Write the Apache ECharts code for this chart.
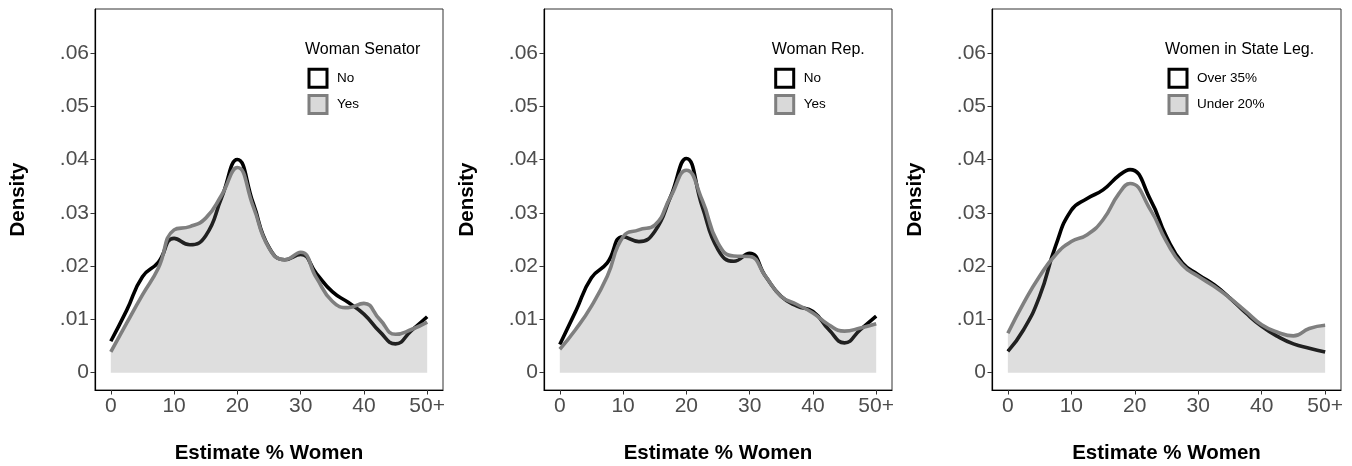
<!DOCTYPE html>
<html>
<head>
<meta charset="utf-8">
<script src="https://cdn.jsdelivr.net/npm/echarts@6/dist/echarts.min.js"></script>
<style>
html,body{margin:0;padding:0;background:#fff;}
#chart{width:1352px;height:466px;}
</style>
</head>
<body>
<div id="chart"></div>
<script>
// ---- data ----
const xs   = [0,2.5,5,7.5,10,12.5,15,17.5,20,22.5,25,27.5,30,32.5,35,37.5,40,42.5,45,47.5,50];
const legX = [0,2.5,5,7.5,10,12.5,15,17.5,19.25,22.5,25,27.5,30,32.5,35,37.5,40,42.5,45,47.5,50];
const xTicks = [0,10,20,30,40,50];
const yTicks = [0,0.01,0.02,0.03,0.04,0.05,0.06];

const panelTitles = ['Woman Senator','Woman Rep.','Women in State Leg.'];
const groupA = ['No','No','Over 35%'];
const groupB = ['Yes','Yes','Under 20%'];

const senNo  = [0.0059,0.0117,0.0180,0.0207,0.0252,0.0240,0.0257,0.0328,0.0400,0.0318,0.0235,0.0212,0.0222,0.0186,0.0152,0.0132,0.0110,0.0077,0.0054,0.0079,0.0105];
const senYes = [0.0039,0.0093,0.0146,0.0196,0.0268,0.0274,0.0290,0.0333,0.0385,0.0312,0.0234,0.0212,0.0226,0.0178,0.0134,0.0122,0.0130,0.0100,0.0072,0.0081,0.0095];
const repNo  = [0.0053,0.0115,0.0178,0.0206,0.0255,0.0246,0.0265,0.0330,0.0402,0.0312,0.0231,0.0209,0.0224,0.0181,0.0143,0.0125,0.0115,0.0081,0.0056,0.0081,0.0106];
const repYes = [0.0044,0.0081,0.0125,0.0181,0.0255,0.0268,0.0277,0.0330,0.0380,0.0324,0.0243,0.0219,0.0218,0.0181,0.0143,0.0128,0.0112,0.0090,0.0078,0.0084,0.0092];
const legOver  = [0.0040,0.0081,0.0143,0.0237,0.0305,0.0327,0.0343,0.0370,0.0381,0.0324,0.0255,0.0206,0.0184,0.0165,0.0140,0.0112,0.0087,0.0068,0.0054,0.0046,0.0039];
const legUnder = [0.0074,0.0131,0.0181,0.0221,0.0246,0.0259,0.0287,0.0336,0.0355,0.0305,0.0246,0.0202,0.0181,0.0162,0.0140,0.0115,0.0090,0.0076,0.0069,0.0083,0.0089];

const panelX  = [xs, xs, legX];
const seriesA = [senNo, repNo, legOver];
const seriesB = [senYes, repYes, legUnder];

// ---- layout ----
const FONT = 'Liberation Sans, Arial, Helvetica, sans-serif';
const gridsPos = [
  {left:95,  width:348},
  {left:544, width:348},
  {left:992, width:349}
];
const legendPos = [
  {title:305,   icon:307.5},
  {title:771.7, icon:774.2},
  {title:1165,  icon:1167.5}
];

const grids = [], xAxes = [], yAxes = [], series = [], legends = [], graphics = [];
for (let p = 0; p < 3; p++) {
  grids.push({left:gridsPos[p].left, top:9, width:gridsPos[p].width, height:381,
    outerBoundsMode:'none', containLabel:false,
    show:true, borderColor:'#333', borderWidth:1, backgroundColor:'transparent'});
  xAxes.push({
    type:'value', gridIndex:p, min:-2.5, max:52.5,
    name:'Estimate % Women', nameLocation:'middle', nameGap:53,
    nameTextStyle:{fontFamily:FONT, fontSize:20.5, fontWeight:'bold', color:'#000'},
    axisLine:{show:true, onZero:false, lineStyle:{color:'#000', width:1.2}},
    axisTick:{show:true, length:4.5, customValues:xTicks, lineStyle:{color:'#333', width:1}},
    axisLabel:{customValues:xTicks, margin:6, fontFamily:FONT, fontSize:21, color:'#4d4d4d',
      formatter:v => v === 50 ? '50+' : String(v)},
    splitLine:{show:false}
  });
  yAxes.push({
    type:'value', gridIndex:p, min:-0.00325, max:0.06825,
    name:'Density', nameLocation:'middle', nameGap:66, nameRotate:90,
    nameTextStyle:{fontFamily:FONT, fontSize:20.5, fontWeight:'bold', color:'#000'},
    axisLine:{show:true, onZero:false, lineStyle:{color:'#000', width:1.2}},
    axisTick:{show:true, length:4.5, customValues:yTicks, lineStyle:{color:'#333', width:1}},
    axisLabel:{customValues:yTicks, margin:6, fontFamily:FONT, fontSize:21, color:'#4d4d4d',
      formatter:v => Math.abs(v) < 1e-9 ? '0' : '.0' + Math.round(v*100)},
    splitLine:{show:false}
  });
  series.push({
    type:'line', name:groupA[p], xAxisIndex:p, yAxisIndex:p, z:2,
    data: panelX[p].map((x,i) => [x, seriesA[p][i]]),
    smooth:0.5, showSymbol:false, symbol:'none',
    lineStyle:{color:'#000', width:3.6}, itemStyle:{color:'#000'},
    emphasis:{disabled:true}, animation:false
  });
  series.push({
    type:'line', name:groupB[p], xAxisIndex:p, yAxisIndex:p, z:3,
    data: panelX[p].map((x,i) => [x, seriesB[p][i]]),
    smooth:0.5, showSymbol:false, symbol:'none',
    lineStyle:{color:'#7f7f7f', width:3.6}, itemStyle:{color:'#7f7f7f'},
    areaStyle:{color:'rgba(127,127,127,0.26)', opacity:1, origin:'auto'},
    emphasis:{disabled:true}, animation:false
  });
  legends.push({
    orient:'vertical', left:legendPos[p].icon, top:67.7, padding:0,
    itemWidth:18, itemHeight:18, itemGap:5.3, icon:'rect', selectedMode:false,
    textStyle:{fontFamily:FONT, fontSize:13.5, color:'#000', padding:[0,0,0,5]},
    data:[
      {name:groupA[p], itemStyle:{color:'#ffffff', borderColor:'#000000', borderWidth:3}},
      {name:groupB[p], itemStyle:{color:'#d9d9d9', borderColor:'#7f7f7f', borderWidth:3}}
    ]
  });
  graphics.push({
    type:'text', x:legendPos[p].title, y:49.3,
    style:{text:panelTitles[p], fontFamily:FONT, fontSize:16, fill:'#000', verticalAlign:'middle'}
  });
}

const chart = echarts.init(document.getElementById('chart'), null, {renderer:'canvas'});
chart.setOption({
  animation:false,
  backgroundColor:'#fff',
  textStyle:{fontFamily:FONT},
  grid:grids, xAxis:xAxes, yAxis:yAxes, series:series, legend:legends,
  graphic:graphics
});
</script>
</body>
</html>
